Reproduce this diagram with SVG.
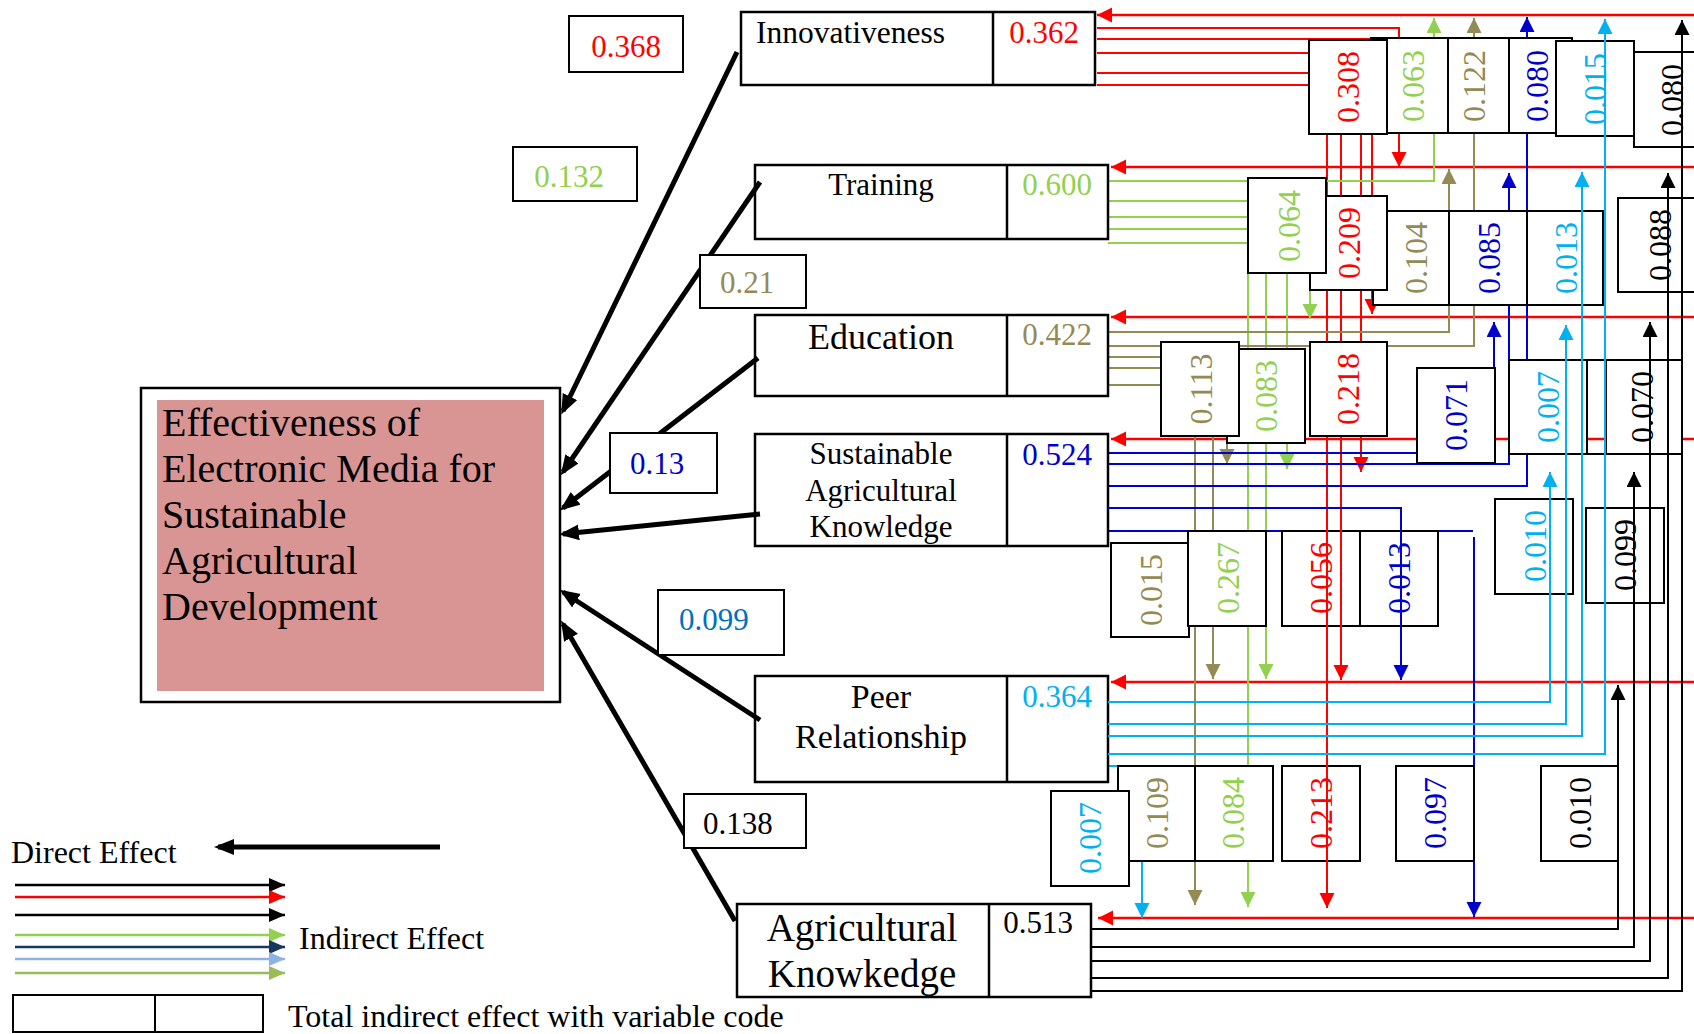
<svg xmlns="http://www.w3.org/2000/svg" width="1694" height="1034" viewBox="0 0 1694 1034">
<style>
text{font-family:"Liberation Serif","Times New Roman",serif}
.ln{fill:none;stroke-width:2}
.row{fill:none;stroke:#FF0000;stroke-width:2.5}
.r{stroke:#FF0000}.g{stroke:#92D050}.o{stroke:#948A54}.b{stroke:#0000CC}.c{stroke:#00B0F0}.k{stroke:#000}
.bx{fill:#fff;stroke:#000;stroke-width:2}
.nd{fill:#fff;stroke:#000;stroke-width:2.5}
.dv{stroke:#000;stroke-width:2.5}
.dir{fill:none;stroke:#000;stroke-width:5}
.v{font-size:32px;text-anchor:middle}
.t31{font-size:31px}
.lg{font-size:32px}
.mid{text-anchor:middle}
.fr{fill:#FF0000}.fg{fill:#92D050}.fo{fill:#948A54}.fb{fill:#0000CC}.fc{fill:#00B0F0}.fk{fill:#000}
</style>
<defs>
<marker id="aR" markerUnits="userSpaceOnUse" markerWidth="16" markerHeight="16" refX="15" refY="7.5" orient="auto"><path d="M0,0 L15,7.5 L0,15 z" fill="#FF0000"/></marker>
<marker id="aG" markerUnits="userSpaceOnUse" markerWidth="16" markerHeight="16" refX="15" refY="7.5" orient="auto"><path d="M0,0 L15,7.5 L0,15 z" fill="#92D050"/></marker>
<marker id="aO" markerUnits="userSpaceOnUse" markerWidth="16" markerHeight="16" refX="15" refY="7.5" orient="auto"><path d="M0,0 L15,7.5 L0,15 z" fill="#948A54"/></marker>
<marker id="aB" markerUnits="userSpaceOnUse" markerWidth="16" markerHeight="16" refX="15" refY="7.5" orient="auto"><path d="M0,0 L15,7.5 L0,15 z" fill="#0000CC"/></marker>
<marker id="aC" markerUnits="userSpaceOnUse" markerWidth="16" markerHeight="16" refX="15" refY="7.5" orient="auto"><path d="M0,0 L15,7.5 L0,15 z" fill="#00B0F0"/></marker>
<marker id="aK" markerUnits="userSpaceOnUse" markerWidth="16" markerHeight="16" refX="15" refY="7.5" orient="auto"><path d="M0,0 L15,7.5 L0,15 z" fill="#000"/></marker>
<marker id="aN" markerUnits="userSpaceOnUse" markerWidth="18" markerHeight="16" refX="16" refY="7" orient="auto"><path d="M0,0 L16,7 L0,14 z" fill="#17375E"/></marker>
<marker id="aL" markerUnits="userSpaceOnUse" markerWidth="18" markerHeight="16" refX="16" refY="7" orient="auto"><path d="M0,0 L16,7 L0,14 z" fill="#8DB3E2"/></marker>
<marker id="aV" markerUnits="userSpaceOnUse" markerWidth="18" markerHeight="16" refX="16" refY="7" orient="auto"><path d="M0,0 L16,7 L0,14 z" fill="#9BBB59"/></marker>
<marker id="aG2" markerUnits="userSpaceOnUse" markerWidth="18" markerHeight="16" refX="16" refY="7" orient="auto"><path d="M0,0 L16,7 L0,14 z" fill="#92D050"/></marker>
<marker id="aR2" markerUnits="userSpaceOnUse" markerWidth="18" markerHeight="16" refX="16" refY="7" orient="auto"><path d="M0,0 L16,7 L0,14 z" fill="#FF0000"/></marker>
<marker id="aK2" markerUnits="userSpaceOnUse" markerWidth="18" markerHeight="16" refX="16" refY="7" orient="auto"><path d="M0,0 L16,7 L0,14 z" fill="#000"/></marker>
<marker id="aD" markerUnits="userSpaceOnUse" markerWidth="22" markerHeight="18" refX="16" refY="8" orient="auto"><path d="M0,0 L20,8 L0,16 z" fill="#000"/></marker>
</defs>
<rect width="1694" height="1034" fill="#fff"/>

<g id="connectors-under">
<path class="row" marker-end="url(#aR)" d="M1694,15 H1097"/>
<path class="row" marker-end="url(#aR)" d="M1694,167 H1111"/>
<path class="row" marker-end="url(#aR)" d="M1694,317 H1111"/>
<path class="row" marker-end="url(#aR)" d="M1694,439 H1111"/>
<path class="row" marker-end="url(#aR)" d="M1694,682 H1111"/>
<path class="row" marker-end="url(#aR)" d="M1694,918 H1098"/>
<path class="ln r" marker-end="url(#aR)" d="M1097,28 H1399 V167"/>
<path class="ln r" d="M1097,39 H1371 M1097,53 H1309 M1097,73 H1309 M1097,85 H1309"/>
<path class="ln r" d="M1327,134 V520 M1341,134 V520"/>
<path class="ln r" marker-end="url(#aR)" d="M1361,134 V472"/>
<path class="ln r" marker-end="url(#aR)" d="M1372,134 V314"/>
<path class="ln g" marker-end="url(#aG)" d="M1108,181 H1434 V18"/>
<path class="ln g" d="M1108,201 H1248 M1108,217 H1248 M1108,229 H1248 M1108,243 H1248"/>
<path class="ln g" marker-end="url(#aG)" d="M1248,273 V907"/>
<path class="ln g" marker-end="url(#aG)" d="M1266,273 V679"/>
<path class="ln g" marker-end="url(#aG)" d="M1287,273 V469"/>
<path class="ln g" marker-end="url(#aG)" d="M1310,273 V319"/>
<path class="ln o" marker-end="url(#aO)" d="M1108,332 H1449 V169"/>
<path class="ln o" marker-end="url(#aO)" d="M1108,346 H1474 V18"/>
<path class="ln o" d="M1108,357 H1161 M1108,368 H1161 M1108,385 H1161"/>
<path class="ln o" marker-end="url(#aO)" d="M1195,436 V905"/>
<path class="ln o" marker-end="url(#aO)" d="M1213,436 V679"/>
<path class="ln o" marker-end="url(#aO)" d="M1227,436 V464"/>
<path class="ln b" d="M1108,453 H1417"/>
<path class="ln b" marker-end="url(#aB)" d="M1108,464 H1509 V173"/>
<path class="ln b" marker-end="url(#aB)" d="M1108,486 H1527 V17"/>
<path class="ln b" d="M1108,531 H1473"/>
<path class="ln b" marker-end="url(#aB)" d="M1474,537 V917"/>
<path class="ln b" marker-end="url(#aB)" d="M1494,368 V322"/>
<path class="ln c" d="M1108,766 H1118"/>
<path class="ln c" marker-end="url(#aC)" d="M1142,861 V918"/>
</g>

<g id="node-innovativeness">
<rect class="nd" x="741" y="12" width="354" height="73"/>
<line class="dv" x1="993" y1="12" x2="993" y2="85"/>
<text x="756" y="43" font-size="31.5">Innovativeness</text>
<text x="1044" y="43" class="t31 mid fr">0.362</text>
</g>
<g id="node-training">
<rect class="nd" x="755" y="165" width="353" height="74"/>
<line class="dv" x1="1007" y1="165" x2="1007" y2="239"/>
<text x="881" y="195" class="t31 mid">Training</text>
<text x="1057" y="195" class="t31 mid fg">0.600</text>
</g>
<g id="node-education">
<rect class="nd" x="755" y="315" width="353" height="81"/>
<line class="dv" x1="1007" y1="315" x2="1007" y2="396"/>
<text x="881" y="349" font-size="36" class="mid">Education</text>
<text x="1057" y="345" class="t31 mid fo">0.422</text>
</g>
<g id="node-sak">
<rect class="nd" x="755" y="434" width="353" height="112"/>
<line class="dv" x1="1007" y1="434" x2="1007" y2="546"/>
<text x="881" y="464" class="t31 mid">Sustainable</text>
<text x="881" y="501" class="t31 mid">Agricultural</text>
<text x="881" y="537" class="t31 mid">Knowledge</text>
<text x="1057" y="465" class="t31 mid fb">0.524</text>
</g>
<g id="node-peer">
<rect class="nd" x="755" y="676" width="353" height="106"/>
<line class="dv" x1="1007" y1="676" x2="1007" y2="782"/>
<text x="881" y="708" font-size="34" class="mid">Peer</text>
<text x="881" y="748" font-size="34" class="mid">Relationship</text>
<text x="1057" y="707" class="t31 mid fc">0.364</text>
</g>
<g id="node-agrk">
<rect class="nd" x="737" y="904" width="354" height="93"/>
<line class="dv" x1="989" y1="904" x2="989" y2="997"/>
<text x="862" y="941" font-size="39" class="mid">Agricultural</text>
<text x="862" y="987" font-size="39" class="mid">Knowkedge</text>
<text x="1038" y="933" class="t31 mid">0.513</text>
</g>
<g id="node-main">
<rect x="141" y="388" width="419" height="314" fill="#fff" stroke="#000" stroke-width="2.5"/>
<rect x="157" y="400" width="387" height="291" fill="#D99594"/>
<text x="162" y="436" font-size="40">Effectiveness of</text>
<text x="162" y="482" font-size="40">Electronic Media for</text>
<text x="162" y="528" font-size="40">Sustainable</text>
<text x="162" y="574" font-size="40">Agricultural</text>
<text x="162" y="620" font-size="40">Development</text>
</g>

<g id="connectors-direct">
<path class="dir" marker-end="url(#aD)" d="M737,52 L563,411"/>
<path class="dir" marker-end="url(#aD)" d="M760,182 L563,472"/>
<path class="dir" marker-end="url(#aD)" d="M758,358 L563,508"/>
<path class="dir" marker-end="url(#aD)" d="M760,514 L563,534"/>
<path class="dir" marker-end="url(#aD)" d="M760,720 L563,592"/>
<path class="dir" marker-end="url(#aD)" d="M735,921 L563,624"/>
</g>

<g id="direct-labels">
<g id="d-innov"><rect class="bx" x="569" y="16" width="114" height="56"/><text x="626" y="57" class="t31 mid fr">0.368</text></g>
<g id="d-training"><rect class="bx" x="513" y="147" width="124" height="54"/><text x="569" y="187" class="t31 mid fg">0.132</text></g>
<g id="d-education"><rect class="bx" x="700" y="255" width="106" height="53"/><text x="720" y="293" class="t31 fo">0.21</text></g>
<g id="d-sak"><rect class="bx" x="610" y="433" width="107" height="60"/><text x="630" y="474" class="t31 fb">0.13</text></g>
<g id="d-peer"><rect class="bx" x="658" y="590" width="126" height="65"/><text x="679" y="630" class="t31" fill="#0070C0">0.099</text></g>
<g id="d-agrk"><rect class="bx" x="684" y="794" width="122" height="54"/><text x="703" y="834" class="t31">0.138</text></g>
</g>

<g id="indirect-boxes">
<g id="i-top-long"><rect class="bx" x="1371" y="38" width="201" height="95"/><line class="bx" x1="1448" y1="38" x2="1448" y2="133"/><line class="bx" x1="1509" y1="38" x2="1509" y2="133"/>
<text transform="translate(1413,86) rotate(-90)" y="11" class="v fg">0.063</text>
<text transform="translate(1474,86) rotate(-90)" y="11" class="v fo">0.122</text>
<text transform="translate(1537,86) rotate(-90)" y="11" class="v fb">0.080</text></g>
<g id="i-0308"><rect class="bx" x="1309" y="40" width="78" height="94"/><text transform="translate(1348,87) rotate(-90)" y="11" class="v fr">0.308</text></g>
<g id="i-0015c"><rect class="bx" x="1556" y="41" width="78" height="95"/><text transform="translate(1595,89) rotate(-90)" y="11" class="v fc">0.015</text></g>
<g id="i-0080k"><rect class="bx" x="1634" y="52" width="70" height="95"/><text transform="translate(1672,100) rotate(-90)" y="11" class="v fk">0.080</text></g>
<g id="i-mid-long"><rect class="bx" x="1373" y="211" width="230" height="94"/><line class="bx" x1="1449" y1="211" x2="1449" y2="305"/><line class="bx" x1="1527" y1="211" x2="1527" y2="305"/>
<text transform="translate(1416,258) rotate(-90)" y="11" class="v fo">0.104</text>
<text transform="translate(1489,258) rotate(-90)" y="11" class="v fb">0.085</text>
<text transform="translate(1566,258) rotate(-90)" y="11" class="v fc">0.013</text></g>
<g id="i-0209"><rect class="bx" x="1310" y="196" width="77" height="94"/><text transform="translate(1349,243) rotate(-90)" y="11" class="v fr">0.209</text></g>
<g id="i-0064"><rect class="bx" x="1248" y="178" width="78" height="95"/><text transform="translate(1289,226) rotate(-90)" y="11" class="v fg">0.064</text></g>
<g id="i-0088"><rect class="bx" x="1618" y="198" width="86" height="94"/><text transform="translate(1660,245) rotate(-90)" y="11" class="v fk">0.088</text></g>
<g id="i-0083"><rect class="bx" x="1227" y="349" width="78" height="94"/><text transform="translate(1266,396) rotate(-90)" y="11" class="v fg">0.083</text></g>
<g id="i-0113"><rect class="bx" x="1161" y="342" width="78" height="94"/><text transform="translate(1201,389) rotate(-90)" y="11" class="v fo">0.113</text></g>
<g id="i-0218"><rect class="bx" x="1310" y="342" width="77" height="94"/><text transform="translate(1348,389) rotate(-90)" y="11" class="v fr">0.218</text></g>
<g id="i-0071"><rect class="bx" x="1417" y="368" width="78" height="95"/><text transform="translate(1456,415) rotate(-90)" y="11" class="v fb">0.071</text></g>
<g id="i-0007c"><rect class="bx" x="1509" y="360" width="78" height="94"/><text transform="translate(1548,407) rotate(-90)" y="11" class="v fc">0.007</text></g>
<g id="i-0070"><rect class="bx" x="1606" y="360" width="76" height="94"/><line class="bx" x1="1587" y1="360" x2="1606" y2="360"/><line class="bx" x1="1587" y1="454" x2="1606" y2="454"/><text transform="translate(1642,407) rotate(-90)" y="11" class="v fk">0.070</text></g>
<g id="i-0015o"><rect class="bx" x="1111" y="543" width="78" height="94"/><text transform="translate(1151,590) rotate(-90)" y="11" class="v fo">0.015</text></g>
<g id="i-0267"><rect class="bx" x="1188" y="531" width="78" height="95"/><text transform="translate(1228,578) rotate(-90)" y="11" class="v fg">0.267</text></g>
<g id="i-0056"><rect class="bx" x="1282" y="531" width="78" height="95"/><text transform="translate(1321,578) rotate(-90)" y="11" class="v fr">0.056</text></g>
<g id="i-0013b"><rect class="bx" x="1360" y="531" width="78" height="95"/><text transform="translate(1399,578) rotate(-90)" y="11" class="v fb">0.013</text></g>
<g id="i-0010c"><rect class="bx" x="1495" y="499" width="78" height="95"/><text transform="translate(1535,546) rotate(-90)" y="11" class="v fc">0.010</text></g>
<g id="i-0099"><rect class="bx" x="1586" y="508" width="78" height="95"/><text transform="translate(1625,555) rotate(-90)" y="11" class="v fk">0.099</text></g>
<g id="i-0109"><rect class="bx" x="1118" y="766" width="77" height="95"/><text transform="translate(1157,813) rotate(-90)" y="11" class="v fo">0.109</text></g>
<g id="i-0007b"><rect class="bx" x="1051" y="791" width="78" height="95"/><text transform="translate(1090,838) rotate(-90)" y="11" class="v fc">0.007</text></g>
<g id="i-0084"><rect class="bx" x="1195" y="766" width="78" height="95"/><text transform="translate(1233,813) rotate(-90)" y="11" class="v fg">0.084</text></g>
<g id="i-0213"><rect class="bx" x="1282" y="766" width="78" height="95"/><text transform="translate(1321,813) rotate(-90)" y="11" class="v fr">0.213</text></g>
<g id="i-0097"><rect class="bx" x="1396" y="766" width="78" height="95"/><text transform="translate(1435,813) rotate(-90)" y="11" class="v fb">0.097</text></g>
<g id="i-0010k"><rect class="bx" x="1541" y="766" width="77" height="95"/><text transform="translate(1580,813) rotate(-90)" y="11" class="v fk">0.010</text></g>
</g>

<g id="connectors-over">
<path class="ln r" marker-end="url(#aR)" d="M1327,520 V908"/>
<path class="ln r" marker-end="url(#aR)" d="M1341,520 V680"/>
<path class="ln b" marker-end="url(#aB)" d="M1108,508 H1401 V680"/>
<path class="ln c" marker-end="url(#aC)" d="M1108,702 H1550 V472"/>
<path class="ln c" marker-end="url(#aC)" d="M1108,724 H1566 V325"/>
<path class="ln c" marker-end="url(#aC)" d="M1108,736 H1582 V172"/>
<path class="ln c" marker-end="url(#aC)" d="M1108,754 H1605 V19"/>
<path class="ln k" marker-end="url(#aK)" d="M1091,929 H1618 V685"/>
<path class="ln k" marker-end="url(#aK)" d="M1091,947 H1634 V472"/>
<path class="ln k" marker-end="url(#aK)" d="M1091,961 H1650 V322"/>
<path class="ln k" marker-end="url(#aK)" d="M1091,978 H1668 V173"/>
<path class="ln k" marker-end="url(#aK)" d="M1091,991 H1682 V20"/>
</g>

<g id="legend">
<text x="11" y="863" class="lg">Direct Effect</text>
<path class="dir" marker-end="url(#aD)" d="M440,847 H218"/>
<path fill="none" stroke="#000" stroke-width="2.5" marker-end="url(#aK2)" d="M15,885 H285"/>
<path fill="none" stroke="#FF0000" stroke-width="2.5" marker-end="url(#aR2)" d="M15,897 H285"/>
<path fill="none" stroke="#000" stroke-width="2.5" marker-end="url(#aK2)" d="M15,915 H285"/>
<path fill="none" stroke="#92D050" stroke-width="2.5" marker-end="url(#aG2)" d="M15,935 H285"/>
<path fill="none" stroke="#17375E" stroke-width="2.5" marker-end="url(#aN)" d="M15,947 H285"/>
<path fill="none" stroke="#8DB3E2" stroke-width="2.5" marker-end="url(#aL)" d="M15,959 H285"/>
<path fill="none" stroke="#9BBB59" stroke-width="2.5" marker-end="url(#aV)" d="M15,973 H285"/>
<text x="299" y="949" class="lg">Indirect Effect</text>
<rect class="bx" x="13" y="995" width="250" height="37"/>
<line class="bx" x1="155" y1="995" x2="155" y2="1032"/>
<text x="288" y="1027" class="lg">Total indirect effect with variable code</text>
</g>
</svg>
